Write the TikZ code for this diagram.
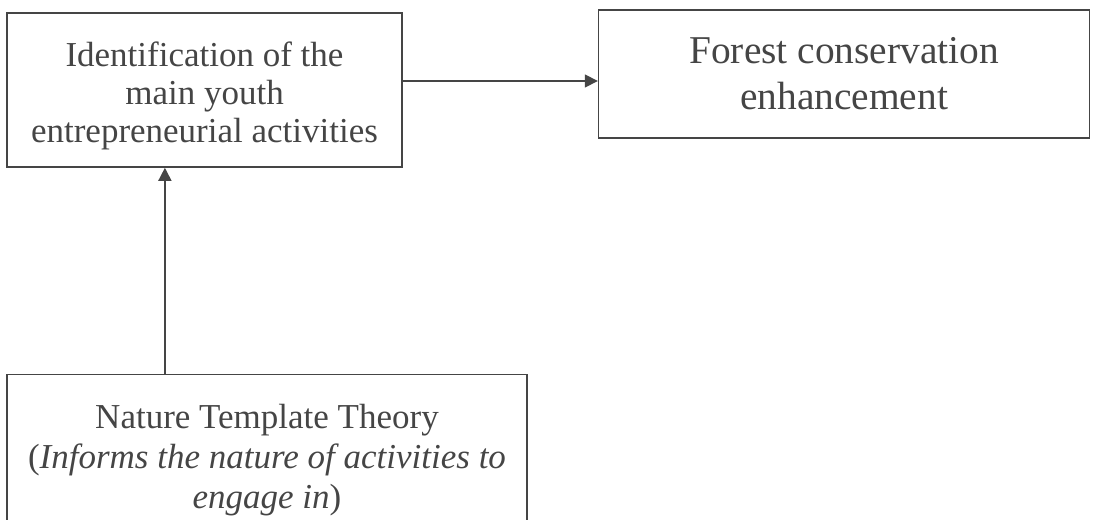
\documentclass[tikz,border=0pt]{standalone}
\usepackage{fontspec}
\setmainfont{Liberation Serif}
\usetikzlibrary{positioning, calc, arrows.meta}
\definecolor{inkgray}{gray}{0.27}
\tikzset{dbox/.style={draw=inkgray, line width=0.8pt, text=inkgray, align=center, inner sep=0pt, font=\fontsize{17.5}{19}\selectfont}}
\tikzset{dboxL/.style={dbox, font=\fontsize{19.7}{23}\selectfont}}
\tikzset{arr/.style={draw=inkgray, line width=0.8pt, -{Triangle[length=6.5pt, width=6.5pt]}}}

\begin{document}
\begin{tikzpicture}
    \useasboundingbox (0,0) rectangle (548pt,-259.5pt);
    \node[dbox, minimum width=197.5pt, minimum height=77pt, text height=56pt] (ident) at (102.25pt,-45pt)
        {Identification of the\\ main youth\\ entrepreneurial activities};
    \node[dboxL, minimum width=245.5pt, minimum height=64pt,
        right=97.5pt of ident.north east, anchor=north west, yshift=1.5pt] (forest)
        {Forest conservation\\ enhancement};
    \node[dbox, font=\fontsize{17.5}{20}\selectfont, minimum width=260pt, minimum height=85pt,
        below=103pt of ident.south west, anchor=north west] (theory)
        {Nature Template Theory\\ (\textit{Informs the nature of activities to}\\ \textit{engage in})};
%
    \coordinate (a) at ([yshift=4.5pt]ident.east);
    \draw[arr] (a) -- (a -| forest.west);
    \coordinate (b) at ([xshift=79.35pt]ident.south west);
    \draw[arr] (b |- theory.north) -- (b);
\end{tikzpicture}
\end{document}
